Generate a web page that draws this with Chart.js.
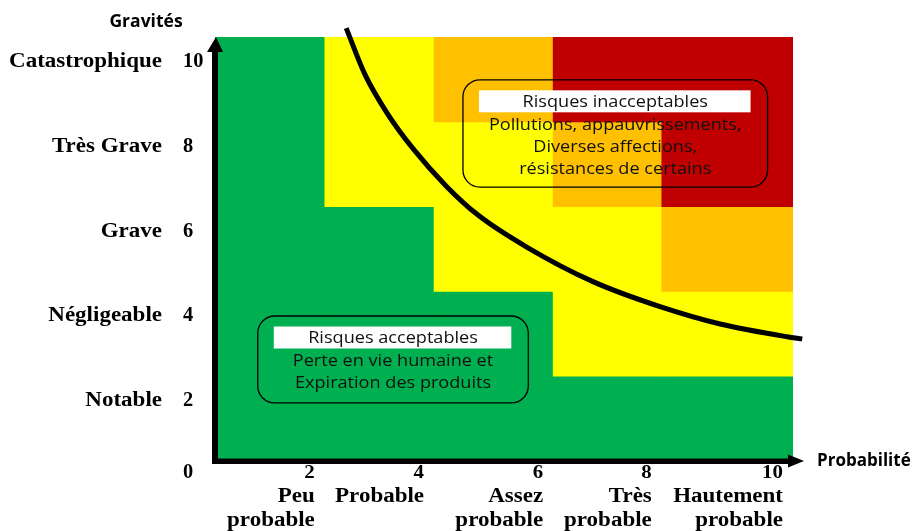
<!DOCTYPE html>
<html lang="fr">
<head>
<meta charset="utf-8">
<title>Matrice des risques</title>
<script src="https://cdn.jsdelivr.net/npm/chart.js@4"></script>
<style>
  html, body { margin: 0; padding: 0; background: #fff; }
  #chart { display: block; }
</style>
</head>
<body>
<canvas id="chart" width="915" height="531"></canvas>
<script>
// colonnes de la matrice (probabilité) et lignes (gravité)
const colBounds = [0, 1.9, 3.79, 5.85, 7.73, 10];
const rowBounds = [0, 2, 4, 6, 8, 10];

// niveau de risque par case : lignes de bas en haut, colonnes de gauche à droite
// 0 = vert, 1 = jaune, 2 = orange, 3 = rouge
const riskLevels = [
  [0, 0, 0, 0, 0],
  [0, 0, 0, 1, 1],
  [0, 0, 1, 1, 2],
  [0, 1, 1, 2, 3],
  [0, 1, 2, 3, 3]
];
const levelColors = ["#00B050", "#FFFF00", "#FFC000", "#C00000"];

// courbe d'acceptabilité
const curveX = [2.27, 2.6, 2.98, 3.43, 4.01, 4.55, 5.4, 6.54, 7.7, 8.74, 9.9, 10.16];
const curveY = [10.21, 9.1, 8.2, 7.36, 6.47, 5.8, 5.04, 4.23, 3.64, 3.23, 2.93, 2.88];

// étiquettes des axes
const probTicks = ["2", "4", "6", "8", "10"];
const probNames = [["Peu", "probable"], ["Probable"], ["Assez", "probable"], ["Très", "probable"], ["Hautement", "probable"]];
const gravTicks = [0, 2, 4, 6, 8, 10];
const gravNames = ["", "Notable", "Négligeable", "Grave", "Très Grave", "Catastrophique"];

// zones de texte
const zoneTitles = ["Risques inacceptables", "Risques acceptables"];
const zoneLines = [
  ["Pollutions, appauvrissements,", "Diverses affections,", "résistances de certains"],
  ["Perte en vie humaine et", "Expiration des produits"]
];
const zoneBoxes = [
  { x0: 4.29, x1: 9.56, y0: 6.46, y1: 8.99 },
  { x0: 0.74, x1: 5.42, y0: 1.37, y1: 3.42 }
];

// construction des cases
const cells = [];
const cellColors = [];
riskLevels.forEach((row, r) => {
  row.forEach((level, c) => {
    cells.push({ y: (rowBounds[r] + rowBounds[r + 1]) / 2, x: [colBounds[c], colBounds[c + 1]] });
    cellColors.push(levelColors[level]);
  });
});

const SERIF = '"Liberation Serif", "Times New Roman", serif';
const SANS = '"Open Sans", "Noto Sans", sans-serif';

function stretchedText(ctx, text, x, y, align, sx) {
  ctx.save();
  ctx.translate(x, y);
  ctx.scale(sx, 1);
  ctx.textAlign = align;
  ctx.fillText(text, 0, 0);
  ctx.restore();
}

function roundedRect(ctx, x, y, w, h, r) {
  ctx.beginPath();
  ctx.moveTo(x + r, y);
  ctx.lineTo(x + w - r, y);
  ctx.arcTo(x + w, y, x + w, y + r, r);
  ctx.lineTo(x + w, y + h - r);
  ctx.arcTo(x + w, y + h, x + w - r, y + h, r);
  ctx.lineTo(x + r, y + h);
  ctx.arcTo(x, y + h, x, y + h - r, r);
  ctx.lineTo(x, y + r);
  ctx.arcTo(x, y, x + r, y, r);
  ctx.closePath();
}

const whiteBg = {
  id: "whiteBg",
  beforeDraw(chart) {
    const ctx = chart.ctx;
    ctx.save();
    ctx.fillStyle = "#fff";
    ctx.fillRect(0, 0, chart.width, chart.height);
    ctx.restore();
  }
};

const riskDecor = {
  id: "riskDecor",
  afterDatasetsDraw(chart) {
    const ctx = chart.ctx;
    const xs = chart.scales.x;
    const ys = chart.scales.y;
    const x0 = xs.getPixelForValue(0);
    const y0 = ys.getPixelForValue(0);
    const yTop = ys.getPixelForValue(10);
    const xEnd = xs.getPixelForValue(10);

    ctx.save();

    // zones de texte
    zoneBoxes.forEach((b, i) => {
      const left = xs.getPixelForValue(b.x0);
      const right = xs.getPixelForValue(b.x1);
      const top = ys.getPixelForValue(b.y1);
      const bottom = ys.getPixelForValue(b.y0);
      const cx = (left + right) / 2;
      roundedRect(ctx, left, top, right - left, bottom - top, 17);
      ctx.lineWidth = 1.3;
      ctx.strokeStyle = "#000";
      ctx.stroke();
      ctx.fillStyle = "#fff";
      ctx.fillRect(left + 16, top + 10.5, right - left - 33, 22);
      ctx.fillStyle = "#111";
      ctx.font = "17px " + SANS;
      ctx.textBaseline = "middle";
      stretchedText(ctx, zoneTitles[i], cx, top + 22, "center", 1.065);
      zoneLines[i].forEach((line, k) => {
        stretchedText(ctx, line, cx, top + 45 + k * 22, "center", 1.065);
      });
    });

    // axes avec flèches
    ctx.fillStyle = "#000";
    ctx.fillRect(x0 - 3, yTop + 14, 6, y0 - yTop - 11);
    ctx.beginPath();
    ctx.moveTo(x0 + 1, yTop);
    ctx.lineTo(x0 - 8, yTop + 15);
    ctx.lineTo(x0 + 8, yTop + 15);
    ctx.closePath();
    ctx.fill();

    ctx.fillRect(x0 - 3, y0 - 2.5, xEnd - x0 - 2, 5.5);
    ctx.beginPath();
    ctx.moveTo(xEnd + 11, y0);
    ctx.lineTo(xEnd - 5, y0 - 6.5);
    ctx.lineTo(xEnd - 5, y0 + 6.5);
    ctx.closePath();
    ctx.fill();

    // étiquettes de gravité
    ctx.textBaseline = "alphabetic";
    gravTicks.forEach((v, i) => {
      const py = v === 0 ? y0 + 17 : ys.getPixelForValue(v) + 30;
      ctx.font = "bold 20px " + SERIF;
      stretchedText(ctx, String(v), x0 - 32, py, "left", 1.02);
      if (gravNames[i]) {
        stretchedText(ctx, gravNames[i], x0 - 53, py, "right", 1.15);
      }
    });

    // étiquettes de probabilité
    probTicks.forEach((t, i) => {
      const right = xs.getPixelForValue(colBounds[i + 1]) - 10;
      ctx.font = "bold 19px " + SERIF;
      stretchedText(ctx, t, right, y0 + 17, "right", 1.1);
      ctx.font = "bold 20px " + SERIF;
      probNames[i].forEach((n, k) => {
        stretchedText(ctx, n, right, y0 + 41 + k * 24, "right", 1.15);
      });
    });

    // titres des axes
    ctx.font = "bold 17px " + SANS;
    ctx.textBaseline = "middle";
    stretchedText(ctx, "Gravités", x0 - 69, yTop - 15, "center", 1.03);
    stretchedText(ctx, "Probabilité", xEnd + 24, y0, "left", 1.0);

    ctx.restore();
  }
};

new Chart(document.getElementById("chart"), {
  data: {
    datasets: [
      {
        type: "bar",
        indexAxis: "y",
        data: cells,
        backgroundColor: cellColors,
        borderWidth: 0,
        barPercentage: 1,
        categoryPercentage: 1,
        order: 2
      },
      {
        type: "line",
        data: curveX.map((x, i) => ({ x: x, y: curveY[i] })),
        borderColor: "#000",
        borderWidth: 5,
        pointRadius: 0,
        cubicInterpolationMode: "monotone",
        fill: false,
        clip: false,
        order: 1
      }
    ]
  },
  options: {
    responsive: false,
    animation: false,
    events: [],
    layout: { padding: { left: 215, right: 122, top: 37, bottom: 70 } },
    scales: {
      x: { type: "linear", min: 0, max: 10, offset: false, display: false, ticks: { stepSize: 2 } },
      y: { type: "linear", min: 0, max: 10, offset: false, display: false, ticks: { stepSize: 2 } }
    },
    plugins: {
      legend: { display: false },
      tooltip: { enabled: false }
    }
  },
  plugins: [whiteBg, riskDecor]
});
</script>
</body>
</html>
